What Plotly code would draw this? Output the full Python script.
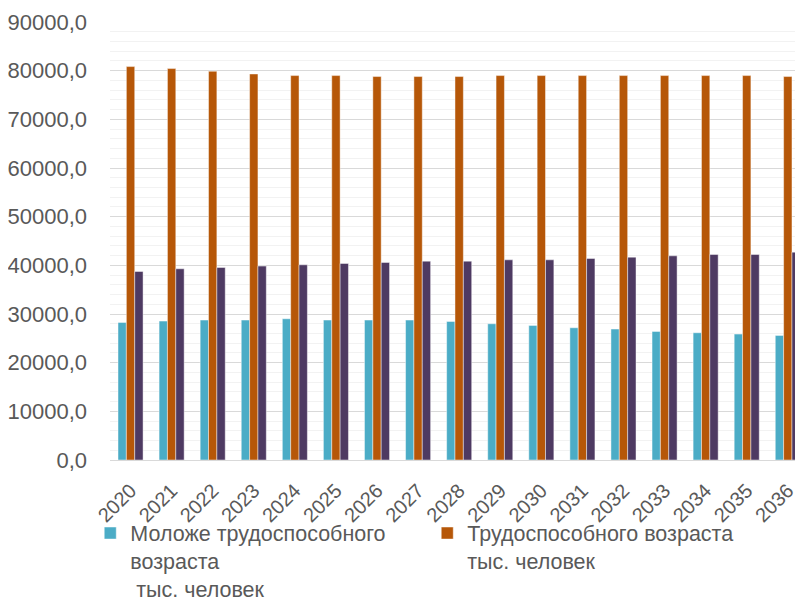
import plotly.graph_objects as go

years = [str(y) for y in range(2020, 2037)]

# тыс. человек
younger = [28270, 28540, 28750, 28750, 29020, 28750, 28750, 28750, 28470,
           27990, 27660, 27170, 26900, 26420, 26150, 25870, 25600]
working = [80840, 80430, 79880, 79320, 78990, 78990, 78790, 78790, 78790,
           78990, 78990, 78990, 78990, 78990, 78990, 78990, 78790]
older = [38740, 39290, 39560, 39840, 40110, 40380, 40590, 40860, 40860,
         41130, 41130, 41410, 41680, 41950, 42230, 42230, 42710]

edge = dict(color="rgba(255,255,255,0.45)", width=1)

fig = go.Figure()
fig.add_trace(go.Bar(x=years, y=younger,
                     name="Моложе трудоспособного<br>возраста<br> тыс. человек",
                     marker=dict(color="#4BACC6", line=edge)))
fig.add_trace(go.Bar(x=years, y=working,
                     name="Трудоспособного возраста<br>тыс. человек",
                     marker=dict(color="#B65708", line=edge)))
fig.add_trace(go.Bar(x=years, y=older,
                     name="Старше трудоспособного возраста<br>тыс. человек",
                     marker=dict(color="#4E3A62", line=edge),
                     showlegend=False))

# the page body adds an 8px offset, so margins are shifted by 8
fig.update_layout(
    width=803, height=604,
    margin=dict(l=102, r=8, t=14, b=152, autoexpand=False),
    paper_bgcolor="white", plot_bgcolor="white",
    barmode="group", bargap=0.39, bargroupgap=0,
    separators=", ",
    font=dict(family="Liberation Sans, Arial, sans-serif", color="#595959"),
    showlegend=True,
    legend=dict(orientation="h", x=-0.0285, xanchor="left", y=-0.12, yanchor="top",
                font=dict(size=21.5, color="#595959"), valign="top",
                bgcolor="rgba(0,0,0,0)",
                entrywidth=292, traceorder="normal"),
)
fig.update_xaxes(
    range=[-0.5, 16.37], showline=True, linecolor="#D9D9D9", linewidth=1,
    tickangle=-45, tickfont=dict(size=20, color="#595959"), ticks="",
    ticklabelstandoff=10, automargin=False,
)
fig.update_yaxes(
    range=[0, 90000], dtick=10000, tickformat=".1f",
    tickfont=dict(size=22, color="#595959"),
    showgrid=True, gridcolor="#D9D9D9", gridwidth=1,
    minor=dict(dtick=2000, showgrid=True, gridcolor="#F2F2F2", gridwidth=1),
    zeroline=False, ticklabelstandoff=22, automargin=False,
)

fig.write_html("out.html")
